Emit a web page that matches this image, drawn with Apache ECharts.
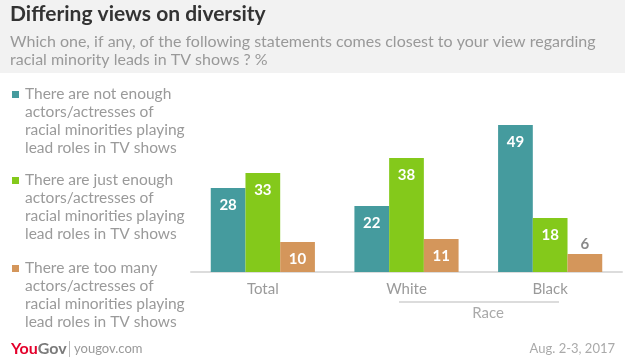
<!DOCTYPE html>
<html><head><meta charset="utf-8">
<script src="https://cdn.jsdelivr.net/npm/echarts@6/dist/echarts.min.js"></script>
<style>html,body{margin:0;padding:0;background:#fff}#c{width:625px;height:363px}</style>
</head><body><div id="c"></div>
<script>
const categories = ['Total', 'White', 'Black'];
const seriesNames = [
  'There are not enough\nactors/actresses of\nracial minorities playing\nlead roles in TV shows',
  'There are just enough\nactors/actresses of\nracial minorities playing\nlead roles in TV shows',
  'There are too many\nactors/actresses of\nracial minorities playing\nlead roles in TV shows'
];
const notEnough = [28, 22, 49];
const justEnough = [33, 38, 18];
const tooMany = [10, 11, 6];
const colors = ['#459b9e', '#84c91b', '#d4965b'];
const FONT = 'Lato';

const values = [notEnough, justEnough, tooMany];
const chart = echarts.init(document.getElementById('c'));

const legendGraphics = [];
const legendTops = [95, 181, 269];
seriesNames.forEach((n, i) => {
  legendGraphics.push({type: 'rect', shape: {x: 12, y: legendTops[i] - 4, width: 7, height: 7}, style: {fill: colors[i]}});
  legendGraphics.push({type: 'text', x: 25, y: legendTops[i] - 9.5, style: {text: n, font: '15.5px ' + FONT, fill: '#9a9a9a', lineHeight: 17.8}});
});

chart.setOption({
  animation: false,
  textStyle: {fontFamily: FONT},
  grid: {left: 191, right: 3, top: 122, bottom: 91},
  xAxis: {
    type: 'category', data: categories,
    axisLine: {lineStyle: {color: '#dcdcdc', width: 2}},
    axisTick: {show: false},
    axisLabel: {color: '#9a9a9a', fontSize: 15, margin: 10, fontFamily: FONT}
  },
  yAxis: {type: 'value', min: 0, max: 50, show: false, splitLine: {show: false}},
  series: values.map((v, i) => ({
    type: 'bar', name: seriesNames[i], data: v.map(x => x),
    barGap: '0%', barCategoryGap: '27.5%',
    itemStyle: {color: colors[i]},
    label: {
      show: true, position: 'insideTop', distance: 10,
      color: '#fff', fontSize: 15, fontWeight: 'bold', fontFamily: FONT
    }
  })).map((s, i) => {
    if (i === 2) {
      s.data = tooMany.map(x => x < 8 ? {value: x, label: {position: 'top', color: '#8a8a8a', distance: 2}} : x);
    }
    return s;
  }),
  graphic: [
    {type: 'rect', shape: {x: 0, y: 0, width: 625, height: 73}, style: {fill: '#f2f2f2'}, z: -1},
    {type: 'text', x: 10, y: 4, style: {text: 'Differing views on diversity', font: 'bold 21px ' + FONT, fill: '#333'}},
    {type: 'text', x: 10, y: 33, style: {text: 'Which one, if any, of the following statements comes closest to your view regarding\nracial minority leads in TV shows ? %', font: '16px ' + FONT, fill: '#999', lineHeight: 18}},
    ...legendGraphics,
    {type: 'line', shape: {x1: 399, y1: 302, x2: 559, y2: 302}, style: {stroke: '#dcdcdc', lineWidth: 2}},
    {type: 'text', x: 488, y: 313, style: {text: 'Race', font: '15px ' + FONT, fill: '#aaa', align: 'center', verticalAlign: 'middle'}},
    {type: 'text', x: 11, y: 349, style: {rich: {a: {fill: '#e4002b', font: 'bold 16px ' + FONT}, b: {fill: '#7a7a7a', font: 'bold 16px ' + FONT}}, text: '{a|You}{b|Gov}', verticalAlign: 'middle'}},
    {type: 'line', shape: {x1: 69.5, y1: 341, x2: 69.5, y2: 357}, style: {stroke: '#bbb', lineWidth: 1}},
    {type: 'text', x: 74, y: 349, style: {text: 'yougov.com', font: '13px ' + FONT, fill: '#999', verticalAlign: 'middle'}},
    {type: 'text', x: 615, y: 349, style: {text: 'Aug. 2-3, 2017', font: '13px ' + FONT, fill: '#aaa', align: 'right', verticalAlign: 'middle'}}
  ]
});
</script></body></html>
